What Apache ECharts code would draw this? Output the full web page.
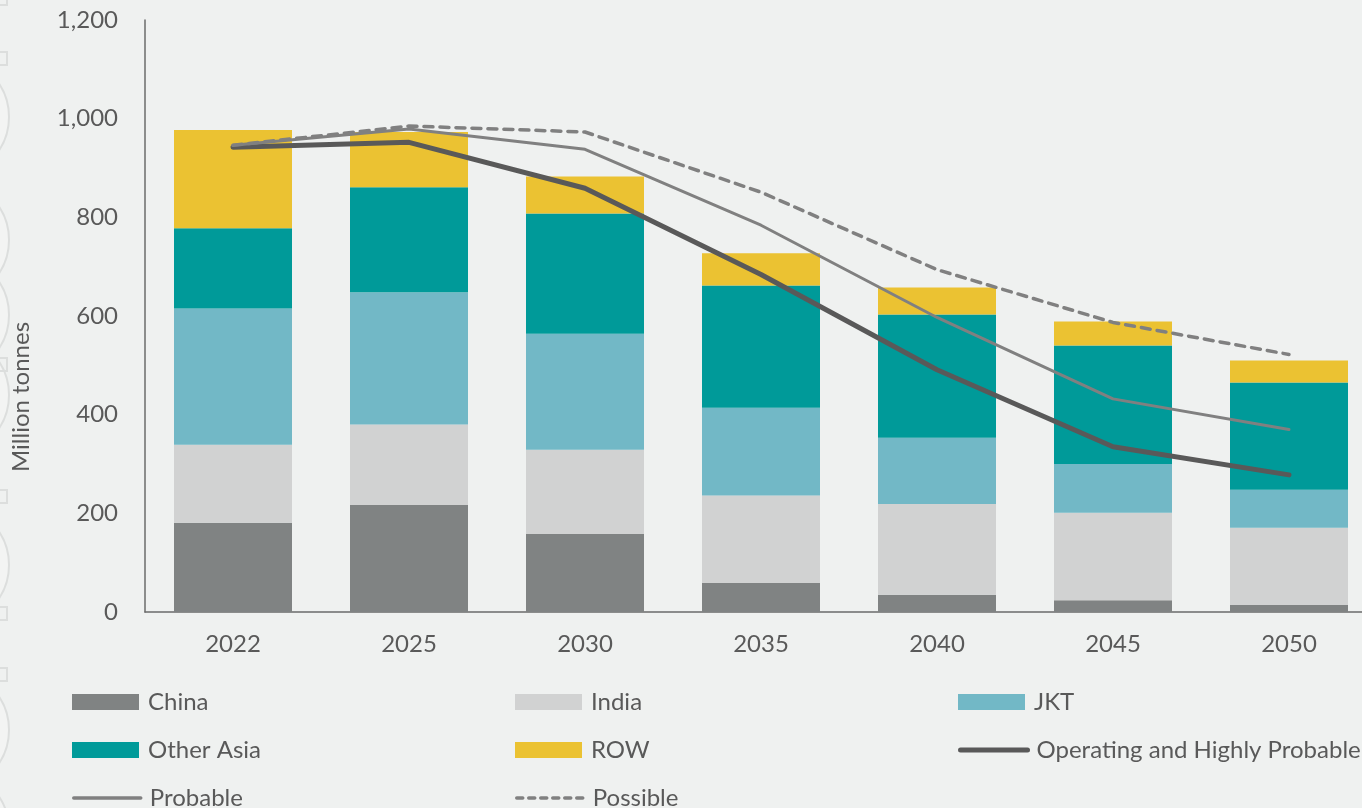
<!DOCTYPE html>
<html>
<head>
<meta charset="utf-8">
<title>Coal demand</title>
<script src="https://cdn.jsdelivr.net/npm/echarts@6/dist/echarts.min.js"></script>
<style>
  html, body { margin: 0; padding: 0; background: #eff1f0; overflow: hidden; }
  /* plot runs a little past the right edge, like the source */
  #chart { width: 1380px; height: 808px; }
</style>
</head>
<body>
<div id="chart"></div>
<script>
// categories
const years = ["2022", "2025", "2030", "2035", "2040", "2045", "2050"];

// stacked bars (million tonnes)
const china = [181, 217, 158, 59, 35, 24, 14];
const india = [158, 163, 171, 177, 184, 177, 157];
const jkt = [276, 268, 235, 178, 134, 99, 77];
const otherAsia = [163, 213, 244, 248, 250, 240, 217];
const row = [199, 112, 75, 65, 55, 49, 45];

// supply lines
const operating = [942, 952, 859, 684, 491, 335, 278];
const probable = [946, 979, 938, 784, 597, 432, 370];
const possible = [946, 985, 973, 851, 694, 587, 522];

const textColor = "#595959";
const fontFamily = "Lato, 'Open Sans', sans-serif";

const chart = echarts.init(document.getElementById("chart"));

function bar(name, data, color) {
  return {
    name: name,
    type: "bar",
    stack: "total",
    barWidth: 118,
    itemStyle: { color: color },
    data: data
  };
}

function line(name, data, color, width, type) {
  return {
    name: name,
    type: "line",
    symbol: "none",
    z: 5,
    lineStyle: { color: color, width: width, type: type, cap: "round" },
    itemStyle: { color: color },
    data: data
  };
}

// one small legend per cell, laid out in three columns
// [name, left, top, line width (0 = box icon), dash]
const legendCells = [
  ["China", 72, 690, 0],
  ["India", 515, 690, 0],
  ["JKT", 958, 690, 0],
  ["Other Asia", 72, 738, 0],
  ["ROW", 515, 738, 0],
  ["Operating and Highly Probable", 958, 738, 5, "solid"],
  ["Probable", 72, 786, 3.5, "solid"],
  ["Possible", 515, 786, 3.5, [6, 6]]
];

// faint background shapes cut off at the left edge
const decoCircles = [117, 240, 315, 395, 565, 730, 830];
const decoSquares = [-8, 52, 358, 490, 607, 668];
const deco = [];
decoCircles.forEach(function (cy) {
  deco.push({
    type: "circle",
    shape: { cx: -51, cy: cy, r: 60 },
    style: { fill: "#f3f4f3", stroke: "#dcdedd", lineWidth: 2 },
    silent: true
  });
});
decoSquares.forEach(function (y) {
  deco.push({
    type: "rect",
    shape: { x: -12, y: y, width: 19, height: 13 },
    style: { fill: "none", stroke: "#dcdedd", lineWidth: 2 },
    silent: true
  });
});

chart.setOption({
  backgroundColor: "#eff1f0",
  animation: false,
  textStyle: { fontFamily: fontFamily },
  graphic: deco,
  grid: {
    left: 145,
    top: 20,
    width: 1232,
    height: 592
  },
  legend: legendCells.map(function (c) {
    const item = { name: c[0] };
    if (!c[3]) {
      item.icon = "rect";
    } else {
      item.itemStyle = { color: "rgba(0,0,0,0)", borderWidth: 0, opacity: 0 };
      item.lineStyle = { width: c[3], type: c[4], cap: "round" };
    }
    return {
      data: [item],
      left: c[1],
      top: c[2],
      padding: 0,
      itemWidth: 67,
      itemHeight: 16,
      itemGap: 0,
      selectedMode: false,
      textStyle: { color: textColor, fontSize: 24, fontFamily: fontFamily, padding: [0, 0, 0, 4] }
    };
  }),
  xAxis: {
    type: "category",
    data: years,
    axisLine: { lineStyle: { color: "#6b6b6b", width: 1.5 } },
    axisTick: { show: false },
    axisLabel: { color: textColor, fontSize: 24, margin: 20 }
  },
  yAxis: {
    type: "value",
    min: 0,
    max: 1200,
    interval: 200,
    name: "Million tonnes",
    nameLocation: "middle",
    nameGap: 112,
    nameRotate: 90,
    nameTextStyle: { color: textColor, fontSize: 24, padding: [0, 162, 0, 0] },
    axisLine: { show: true, lineStyle: { color: "#6b6b6b", width: 1.5 } },
    axisTick: { show: false },
    splitLine: { show: false },
    axisLabel: {
      color: textColor,
      fontSize: 24,
      margin: 27,
      formatter: function (v) { return v.toLocaleString("en-US"); }
    }
  },
  series: [
    bar("China", china, "#808383"),
    bar("India", india, "#d1d2d2"),
    bar("JKT", jkt, "#72b8c6"),
    bar("Other Asia", otherAsia, "#009a99"),
    bar("ROW", row, "#ebc232"),
    line("Operating and Highly Probable", operating, "#595959", 5, "solid"),
    line("Probable", probable, "#808080", 3, "solid"),
    line("Possible", possible, "#808080", 3.5, [9, 7])
  ]
});
</script>
</body>
</html>
